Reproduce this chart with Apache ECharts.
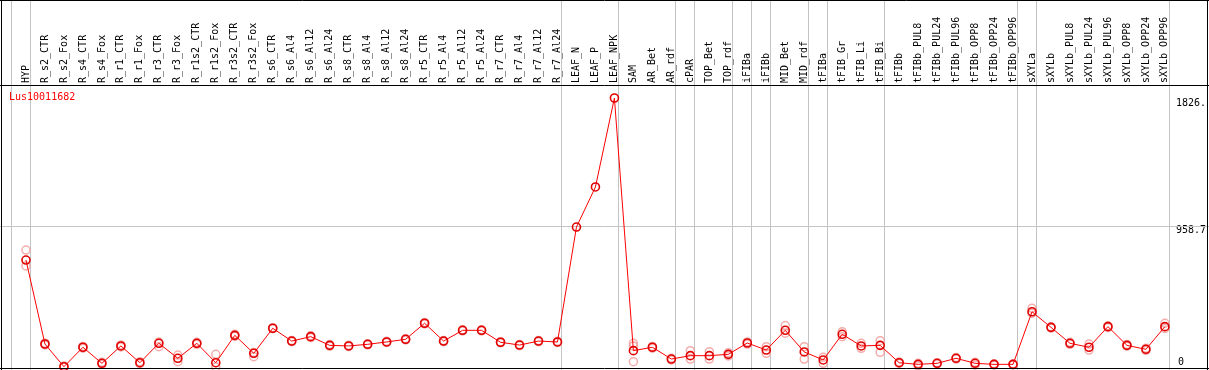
<!DOCTYPE html>
<html><head><meta charset="utf-8">
<script src="https://cdn.jsdelivr.net/npm/echarts@6/dist/echarts.min.js"></script>
<style>html,body{margin:0;padding:0;background:#fff}#c{width:1209px;height:370px}</style>
</head><body><div id="c"></div>
<script>
const geneName = 'Lus10011682';
const categories = ['HYP','R_s2_CTR','R_s2_Fox','R_s4_CTR','R_s4_Fox','R_r1_CTR','R_r1_Fox','R_r3_CTR','R_r3_Fox',
  'R_r1s2_CTR','R_r1s2_Fox','R_r3s2_CTR','R_r3s2_Fox','R_s6_CTR','R_s6_Al4','R_s6_Al12','R_s6_Al24',
  'R_s8_CTR','R_s8_Al4','R_s8_Al12','R_s8_Al24','R_r5_CTR','R_r5_Al4','R_r5_Al12','R_r5_Al24',
  'R_r7_CTR','R_r7_Al4','R_r7_Al12','R_r7_Al24','LEAF_N','LEAF_P','LEAF_NPK','SAM','AR_Bet','AR_rdf',
  'cPAR','TOP_Bet','TOP_rdf','iFIBa','iFIBb','MID_Bet','MID_rdf','tFIBa','tFIB_Gr','tFIB_Li','tFIB_Bi',
  'tFIBb','tFIBb_PUL8','tFIBb_PUL24','tFIBb_PUL96','tFIBb_OPP8','tFIBb_OPP24','tFIBb_OPP96',
  'sXYLa','sXYLb','sXYLb_PUL8','sXYLb_PUL24','sXYLb_PUL96','sXYLb_OPP8','sXYLb_OPP24','sXYLb_OPP96'];
const meanValues = [726,156,2,134,25,143,29,161,59,161,29,215,93,263,176,206,147,143,154,170,188,297,176,249,249,
  168,149,176,170,950,1222,1826,111,134,54,77,77,86,163,115,249,102,48,222,143,147,
  29,18,25,59,25,18,18,375,269,161,134,274,147,120,274];
const rep1 = [794,162,6,140,32,150,36,170,81,168,86,222,98,266,180,212,152,147,158,174,192,302,180,253,253,
  172,153,180,174,null,null,null,161,140,60,111,104,97,170,138,281,138,66,240,161,179,
  34,25,29,64,32,22,22,398,274,168,156,280,153,128,297];
const rep2 = [686,150,0,128,18,136,22,138,36,154,0,208,70,260,172,200,142,139,150,166,184,292,172,245,245,
  164,145,172,166,null,null,null,36,128,48,54,54,75,156,93,229,54,25,206,127,100,
  24,7,21,54,14,14,14,365,264,154,115,268,141,112,262];
const rep3 = [null,null,null,null,null,null,null,null,null,null,null,null,null,null,null,null,null,null,null,null,null,null,null,null,null,
  null,null,null,null,null,null,null,143,null,null,null,null,null,null,null,null,null,null,null,null,null,
  null,null,null,null,null,null,null,null,null,null,null,null,null,null,null];
const groupEnds = [-1,0,28,31,34,35,37,38,39,41,42,45,52,53,60];
const refValue = 958.7;
const yTickValues = [0, 958.7, 1826];
const yTickLabels = ['0', '958.7', '1826.'];

const FONT = 'DejaVu Sans Mono';
const toPairs = arr => arr.map((v, i) => [i, v]).filter(p => p[1] != null);
const yLabel = v => { const k = yTickValues.indexOf(v); return k >= 0 ? yTickLabels[k] : ''; };

const chart = echarts.init(document.getElementById('c'), null, {renderer: 'canvas'});
const repStyle = {color: 'rgba(0,0,0,0)', borderColor: '#f09898', borderWidth: 1.5};
const baseY = {type: 'value', min: 0, max: 1826, position: 'right', axisLine: {show: false},
  axisTick: {show: false}, splitLine: {show: false}};
chart.setOption({
  animation: false,
  backgroundColor: '#fff',
  title: {text: geneName, left: 9, top: 92, padding: 0,
    textStyle: {color: '#f00', fontSize: 10, fontFamily: FONT, fontWeight: 'normal'}},
  grid: {left: 7, right: 43, top: 98, bottom: 3, containLabel: false},
  xAxis: {type: 'value', min: -1, max: categories.length - 1, interval: 1, position: 'top',
    axisLine: {show: false}, axisTick: {show: false}, splitLine: {show: false},
    axisLabel: {rotate: 90, margin: 15, fontSize: 10, fontFamily: FONT, color: '#000',
      formatter: v => categories[v] ?? ''}},
  yAxis: [
    Object.assign({}, baseY, {axisLabel: {customValues: [958.7, 1826], formatter: yLabel,
      verticalAlign: 'top', align: 'left', margin: 11, fontSize: 10, fontFamily: FONT, color: '#000'}}),
    Object.assign({}, baseY, {axisLabel: {customValues: [0], formatter: yLabel,
      verticalAlign: 'bottom', align: 'left', margin: 13, fontSize: 10, fontFamily: FONT, color: '#000'}})
  ],
  graphic: [
    {type: 'line', z: 100, shape: {x1: 0, y1: 0.5, x2: 1209, y2: 0.5}, style: {stroke: '#000', lineWidth: 1}},
    {type: 'line', z: 100, shape: {x1: 0, y1: 85.5, x2: 1209, y2: 85.5}, style: {stroke: '#000', lineWidth: 1}},
    {type: 'line', z: 100, shape: {x1: 0, y1: 368.5, x2: 1209, y2: 368.5}, style: {stroke: '#000', lineWidth: 1}},
    {type: 'line', z: 100, shape: {x1: 1.5, y1: 0, x2: 1.5, y2: 370}, style: {stroke: '#000', lineWidth: 1}},
    {type: 'line', z: 100, shape: {x1: 1207.5, y1: 0, x2: 1207.5, y2: 370}, style: {stroke: '#000', lineWidth: 1}}
  ],
  series: [
    {type: 'custom', name: 'groups', clip: false, z: 1, silent: true,
      data: groupEnds.map(g => [g, 0]),
      renderItem: (params, api) => {
        const x = Math.round(api.coord([api.value(0) + 0.2, 0])[0]) + 0.5;
        return {type: 'line', shape: {x1: x, y1: 0, x2: x, y2: api.getHeight()},
          style: {stroke: '#c4c4c4', lineWidth: 1}};
      }},
    {type: 'custom', name: 'ref', clip: false, z: 1, silent: true,
      data: [[0, refValue]],
      renderItem: (params, api) => {
        const y = Math.round(api.coord([0, api.value(1)])[1]) + 0.5;
        return {type: 'line', shape: {x1: 0, y1: y, x2: api.getWidth(), y2: y},
          style: {stroke: '#c4c4c4', lineWidth: 1}};
      }},
    {type: 'scatter', name: 'rep1', z: 2, symbol: 'circle', symbolSize: 8, itemStyle: repStyle, data: toPairs(rep1)},
    {type: 'scatter', name: 'rep2', z: 2, symbol: 'circle', symbolSize: 8, itemStyle: repStyle, data: toPairs(rep2)},
    {type: 'scatter', name: 'rep3', z: 2, symbol: 'circle', symbolSize: 8, itemStyle: repStyle, data: toPairs(rep3)},
    {type: 'line', name: 'mean', z: 3, symbol: 'circle', symbolSize: 8, showAllSymbol: true,
      lineStyle: {color: '#f00', width: 1},
      itemStyle: {color: 'rgba(0,0,0,0)', borderColor: '#e00000', borderWidth: 1.6},
      data: toPairs(meanValues)}
  ]
});
</script></body></html>
